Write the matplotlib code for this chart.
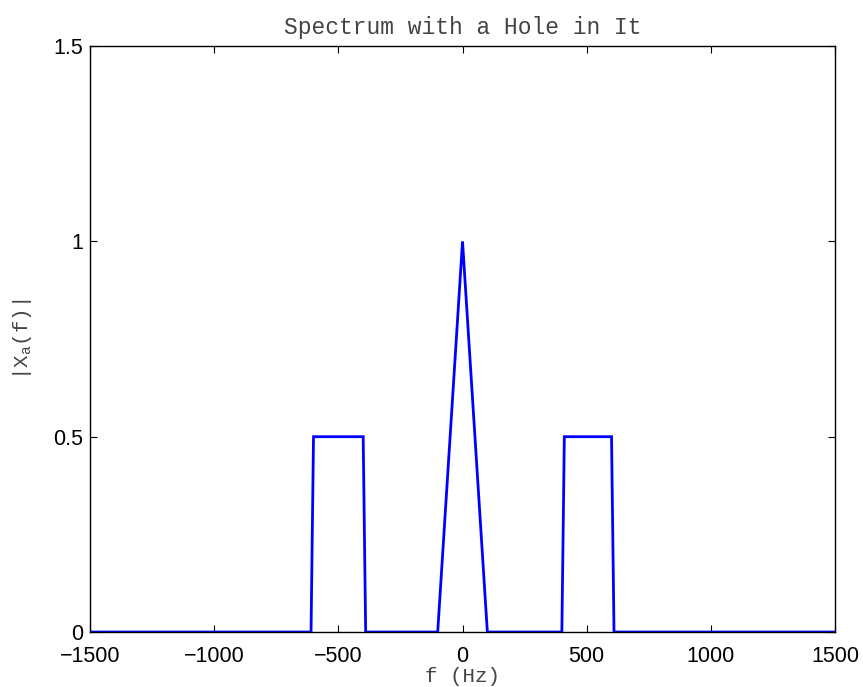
import matplotlib
matplotlib.use('Agg')
import matplotlib.pyplot as plt

# spectrum samples (Hz, magnitude)
freq = [-1500, -610, -600, -400, -390, -100, 0, 100, 400, 410, 600, 610, 1500]
mag = [0, 0, 0.5, 0.5, 0, 0, 1, 0, 0, 0.5, 0.5, 0, 0]

xticks = [-1500, -1000, -500, 0, 500, 1000, 1500]
yticks = [0, 0.5, 1, 1.5]
ytick_labels = ['0', '0.5', '1', '1.5']

plt.rcParams['mathtext.fontset'] = 'custom'
plt.rcParams['mathtext.rm'] = 'Liberation Mono'
plt.rcParams['mathtext.it'] = 'Liberation Mono'

fig = plt.figure(figsize=(8.63, 6.87), dpi=100)
ax = fig.add_axes([0.1043, 0.080, 0.8633, 0.853])

ax.plot(freq, mag, color='#0000ff', linewidth=2.0, solid_joinstyle='miter')

ax.set_xlim(-1500, 1500)
ax.set_ylim(0, 1.5)
ax.set_xticks(xticks)
ax.set_xticklabels([str(t).replace('-', '\u2212') for t in xticks])
ax.set_yticks(yticks)
ax.set_yticklabels(ytick_labels)
ax.tick_params(direction='in', length=5, width=0.8, top=True, right=True,
               labelsize=15.5)
ax.tick_params(axis='x', pad=10)
ax.tick_params(axis='y', pad=5)
for lab in ax.get_xticklabels() + ax.get_yticklabels():
    lab.set_family('Liberation Sans')
for sp in ax.spines.values():
    sp.set_linewidth(1.0)

mono = 'Liberation Mono'
ax.set_title('Spectrum with a Hole in It', family=mono, fontsize=16.5,
             color='#444444', pad=9)
ax.set_xlabel('f (Hz)', family=mono, fontsize=15, color='#444444', labelpad=0)
ax.set_ylabel('|X$_a$(f)|', family=mono, fontsize=15, color='#444444',
              labelpad=14)

fig.savefig('out.png', dpi=100)
